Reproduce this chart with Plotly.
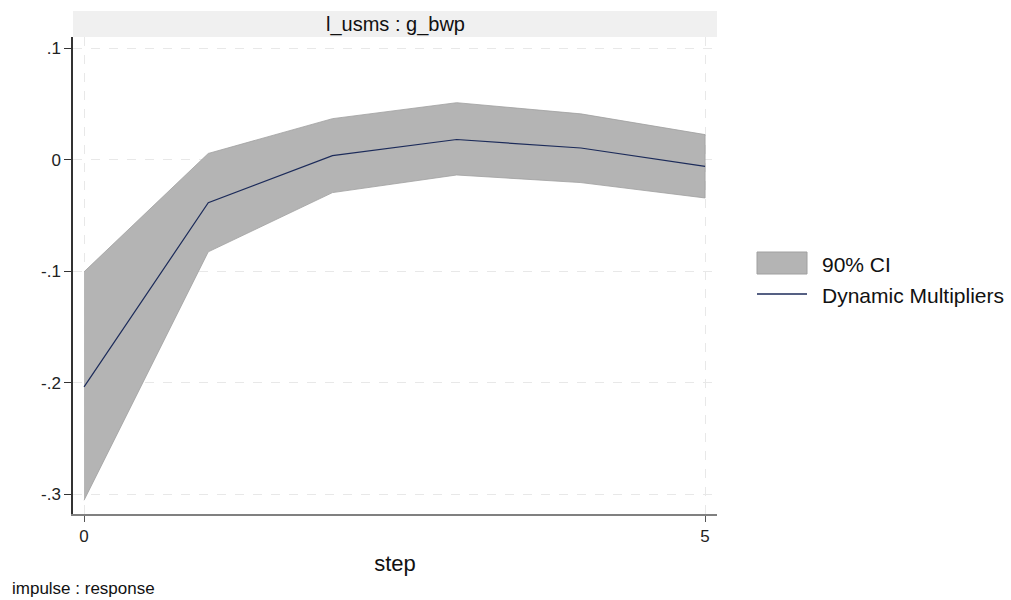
import plotly.graph_objects as go

steps = [0, 1, 2, 3, 4, 5]
irf = [-0.2037, -0.0387, 0.0036, 0.0180, 0.0104, -0.0060]
ci_upper = [-0.1006, 0.0055, 0.0367, 0.0510, 0.0410, 0.0224]
ci_lower = [-0.3054, -0.0827, -0.0296, -0.0138, -0.0206, -0.0344]
y_ticks = [0.1, 0, -0.1, -0.2, -0.3]
y_tick_labels = [".1", "0", "-.1", "-.2", "-.3"]
x_ticks = [0, 5]
x_tick_labels = ["0", "5"]
legend_labels = ["90% CI", "Dynamic Multipliers"]

font = "Liberation Sans, Arial, sans-serif"
CI_FILL = "rgb(180,180,180)"
CI_EDGE = "rgb(160,160,160)"
LINE_COL = "#1c2b5a"

# plot-area geometry in pixels (for paper-coordinate conversions)
L, R, T, B = 73, 717, 37, 514
PW, PH = R - L, B - T


def px(x):
    return (x - L) / PW


def py(y):
    return (B - y) / PH


fig = go.Figure()
fig.add_trace(go.Scatter(
    x=steps + steps[::-1], y=ci_upper + ci_lower[::-1],
    fill="toself", fillcolor=CI_FILL,
    line=dict(color=CI_EDGE, width=0.8),
    mode="lines", name=legend_labels[0], hoverinfo="skip", showlegend=False))
fig.add_trace(go.Scatter(
    x=steps, y=irf, mode="lines", name=legend_labels[1], showlegend=False,
    line=dict(color=LINE_COL, width=1.2)))

fig.update_layout(
    width=1011, height=600,
    margin=dict(l=L, r=1011 - R, t=T, b=600 - B),
    plot_bgcolor="white", paper_bgcolor="white",
    font=dict(family=font, size=17, color="#222"),
    showlegend=False,
    xaxis=dict(range=[-0.089, 5.096], tickvals=x_ticks, ticktext=x_tick_labels,
               showgrid=True, gridcolor="#e8e8e8", griddash="dash", gridwidth=1,
               zeroline=False, showline=True, linecolor="#808080", linewidth=2,
               ticks="outside", ticklen=6, tickcolor="#555",
               title=dict(text="step", font=dict(size=22, color="#111"), standoff=10),
               tickfont=dict(size=17)),
    yaxis=dict(range=[-0.3177, 0.1099], tickvals=y_ticks, ticktext=y_tick_labels,
               showgrid=True, gridcolor="#e8e8e8", griddash="dash", gridwidth=1,
               zeroline=False, showline=True, linecolor="#333", linewidth=1.5,
               ticks="outside", ticklen=7, tickcolor="#333",
               tickfont=dict(size=17)),
)

# strip header
fig.add_shape(type="rect", xref="paper", yref="paper", x0=0, x1=1,
              y0=1, y1=py(11), fillcolor="#f0f0f0", line=dict(width=0),
              layer="below")
fig.add_annotation(text="l_usms : g_bwp", xref="paper", yref="paper",
                   x=0.5, y=py(24), showarrow=False, yanchor="middle",
                   font=dict(size=20, color="#111"))

# legend (drawn manually to match the wide swatch)
fig.add_shape(type="rect", xref="paper", yref="paper",
              x0=px(757), x1=px(807), y0=py(274), y1=py(252),
              fillcolor=CI_FILL, line=dict(color=CI_EDGE, width=1))
fig.add_shape(type="line", xref="paper", yref="paper",
              x0=px(757), x1=px(807), y0=py(294), y1=py(294),
              line=dict(color=LINE_COL, width=1.6))
fig.add_annotation(text=legend_labels[0], xref="paper", yref="paper",
                   x=px(820), y=py(264), xanchor="left", yanchor="middle",
                   showarrow=False, font=dict(size=21, color="#111"))
fig.add_annotation(text=legend_labels[1], xref="paper", yref="paper",
                   x=px(820), y=py(295), xanchor="left", yanchor="middle",
                   showarrow=False, font=dict(size=21, color="#111"))

fig.add_annotation(text="impulse : response", xref="paper", yref="paper",
                   x=px(10), y=py(588), xanchor="left",
                   yanchor="middle", showarrow=False,
                   font=dict(size=17, color="#111"))

fig.write_html("out.html")
